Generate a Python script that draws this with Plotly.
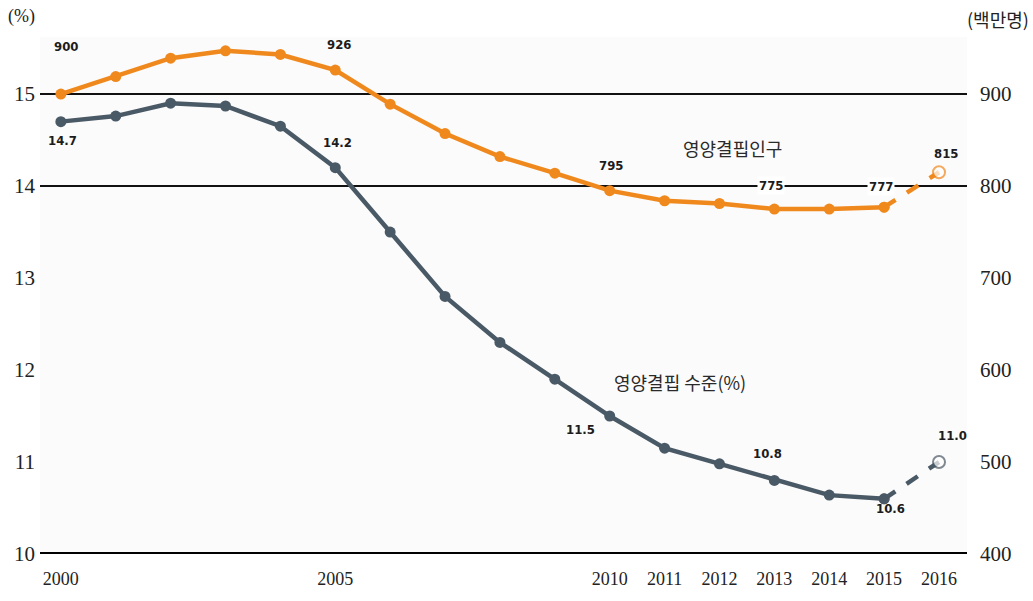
import plotly.graph_objects as go

# Undernourishment: prevalence (%) and number of people (millions), 2000-2016
years = list(range(2000, 2017))
prevalence = [14.7, 14.76, 14.9, 14.87, 14.65, 14.2, 13.5, 12.8, 12.3, 11.9,
              11.5, 11.15, 10.98, 10.8, 10.64, 10.6, 11.0]
people = [900, 919, 939, 947, 943, 926, 889, 857, 832, 814,
          795, 784, 781, 775, 775, 777, 815]

x_ticks = [2000, 2005, 2010, 2011, 2012, 2013, 2014, 2015, 2016]
left_ticks = [10, 11, 12, 13, 14, 15]
right_ticks = [400, 500, 600, 700, 800, 900]

ORANGE = "#f0891d"
SLATE = "#4a5966"
SERIF = "Liberation Serif"
NARROW = "DejaVu Sans Condensed, Liberation Sans Narrow, Liberation Sans"
KR = "Noto Sans CJK KR"

W, H = 1033, 601
L, R, T, B = 40, 66, 37, 39
pw, ph = W - L - R, H - T - B

fig = go.Figure()


def add_series(values, color, axis):
    # solid observed part
    fig.add_trace(go.Scatter(
        x=years[:-1], y=values[:-1], yaxis=axis, mode="lines+markers",
        line=dict(color=color, width=4.5), marker=dict(color=color, size=11),
        showlegend=False, hoverinfo="skip"))
    # dashed projection to the last year, ending in a hollow marker
    fig.add_trace(go.Scatter(
        x=years[-2:], y=values[-2:], yaxis=axis, mode="lines+markers",
        line=dict(color=color, width=4.5, dash="dash"),
        marker=dict(color=[color, "white"], size=[11, 12],
                    line=dict(color=color, width=[0, 2])),
        showlegend=False, hoverinfo="skip"))


# reference lines at 14 % and 15 %
for v in (14, 15):
    fig.add_shape(type="line", xref="paper", yref="y", x0=0, x1=1, y0=v, y1=v,
                  line=dict(color="#111", width=2), layer="below")
# baseline
fig.add_shape(type="line", xref="paper", yref="y", x0=0, x1=1, y0=10, y1=10,
              line=dict(color="#000", width=4), layer="above")

add_series(people, ORANGE, "y2")
add_series(prevalence, SLATE, "y")


def value_label(year, axis, series, text, dx, dy, boxed=False):
    i = years.index(year)
    fig.add_annotation(x=year, y=series[i], yref=axis, text=text,
                       showarrow=False, xshift=dx, yshift=dy,
                       xanchor="center", yanchor="middle",
                       font=dict(family=NARROW, size=13, color="#1c1c1c"),
                       bgcolor="white" if boxed else None,
                       borderpad=1)


value_label(2000, "y2", people, "<b>900</b>", 5, 48)
value_label(2005, "y2", people, "<b>926</b>", 4, 26)
value_label(2010, "y2", people, "<b>795</b>", 1, 25)
value_label(2013, "y2", people, "<b>775</b>", -3, 24, boxed=True)
value_label(2015, "y2", people, "<b>777</b>", -3, 21, boxed=True)
value_label(2016, "y2", people, "<b>815</b>", 7, 19)

value_label(2000, "y", prevalence, "<b>14.7</b>", 2, -19)
value_label(2005, "y", prevalence, "<b>14.2</b>", 2, 25)
value_label(2010, "y", prevalence, "<b>11.5</b>", -29, -13)
value_label(2013, "y", prevalence, "<b>10.8</b>", -7, 27)
value_label(2015, "y", prevalence, "<b>10.6</b>", 6, -10)
value_label(2016, "y", prevalence, "<b>11.0</b>", 13, 27)


def series_name(text, px, py):
    fig.add_annotation(x=(px - L) / pw, y=1 - (py - T) / ph,
                       xref="x domain", yref="y domain",
                       xanchor="center", yanchor="middle",
                       text=text, showarrow=False,
                       font=dict(family=KR, size=18, color="#2a2a2a"))


series_name("영양결핍인구", 732, 150)
series_name("영양결핍 수준(%)", 680, 387)

# axis unit captions
fig.add_annotation(x=0, y=1, xref="paper", yref="paper", xanchor="left", yanchor="top",
                   xshift=-L + 6, yshift=T - 4, text="(%)", showarrow=False,
                   font=dict(family=SERIF, size=18, color="#222"))
fig.add_annotation(x=1, y=1, xref="paper", yref="paper", xanchor="right", yanchor="top",
                   xshift=R - 2, yshift=T - 4, text="(백만명)", showarrow=False,
                   font=dict(family=KR, size=18, color="#222"))

fig.update_layout(
    width=W, height=H,
    margin=dict(l=L, r=R, t=T, b=B),
    paper_bgcolor="white", plot_bgcolor="#fbfbfb",
    xaxis=dict(range=[1999.62, 2016.51], tickvals=x_ticks, showgrid=False,
               zeroline=False, showline=False, ticks="", ticklabelstandoff=12,
               tickfont=dict(family=SERIF, size=18, color="#222")),
    yaxis=dict(range=[10, 15.62], tickvals=left_ticks, showgrid=False,
               zeroline=False, showline=False, ticks="", ticklabelstandoff=4,
               tickfont=dict(family=SERIF, size=21, color="#222")),
    yaxis2=dict(range=[400, 962], tickvals=right_ticks, overlaying="y", side="right",
                showgrid=False, zeroline=False, showline=False, ticks="",
                ticklabelstandoff=12,
                tickfont=dict(family=SERIF, size=21, color="#222")),
)

fig.write_html("out.html")
